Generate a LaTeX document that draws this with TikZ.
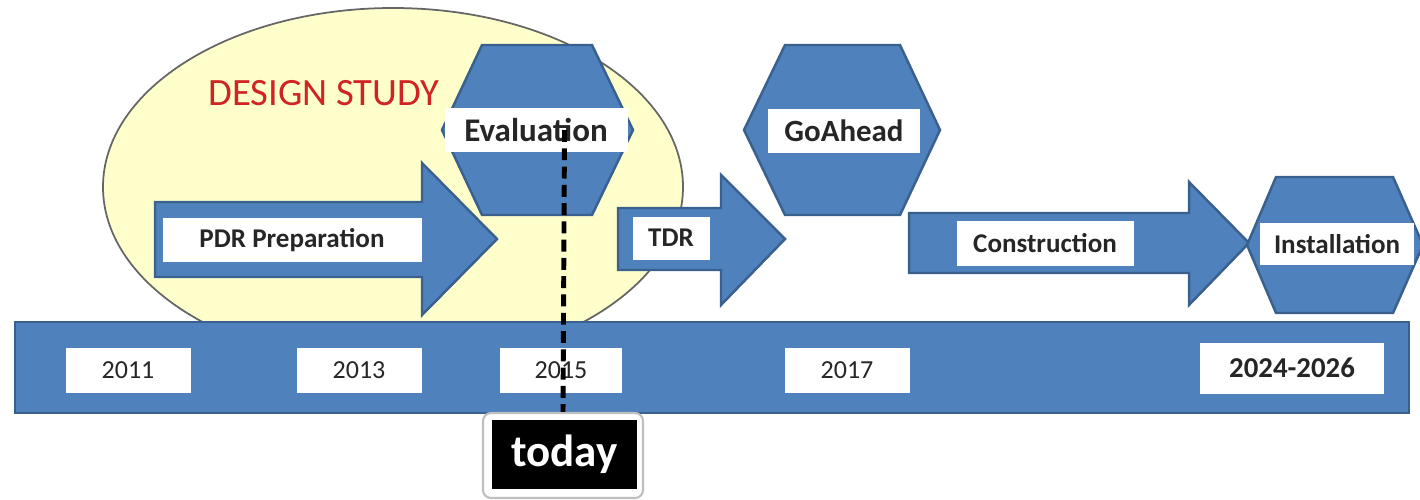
\documentclass[tikz,border=0pt]{standalone}
\usepackage{fontspec}
\setmainfont{Carlito}
\usetikzlibrary{positioning}
\definecolor{officeblue}{RGB}{79,129,189}
\definecolor{blueedge}{RGB}{58,96,142}
\definecolor{paleyellow}{RGB}{255,255,204}
\definecolor{studyred}{RGB}{208,36,36}

\begin{document}
\begin{tikzpicture}[x=0.1mm,y=-0.1mm,
    blueshape/.style={fill=officeblue,draw=blueedge,line width=0.7pt,line join=miter},
    tag/.style={fill=white,inner sep=0pt,text=black!85,font=\fontsize{7.7}{9}\selectfont\bfseries},
    yeartag/.style={fill=white,inner sep=0pt,minimum height=4.5mm,text=black!85,font=\fontsize{7.4}{9}\selectfont},
    nowline/.style={line width=1.4pt,dash pattern=on 3.4pt off 1.8pt}]
\useasboundingbox (0,0) rectangle (1420,499);
% design study bubble
\draw[fill=paleyellow,draw=black!60,line width=0.5pt] (393,187) ellipse [x radius=29mm, y radius=17.9mm];
\node[text=studyred,font=\fontsize{11}{13}\selectfont] (study) at (324,93) {DESIGN STUDY};
% time bar
\draw[blueshape] (15,322) rectangle (1409,413);
\node[yeartag,minimum width=12.5mm] (y2011) at (128,370) {2011};
\node[yeartag,minimum width=12.5mm] (y2013) at (359,370) {2013};
\node[yeartag,minimum width=12.2mm] (y2015) at (561,370) {2015};
\node[yeartag,minimum width=12.5mm] (y2017) at (847,370) {2017};
\node[yeartag,minimum width=18.4mm,minimum height=5.1mm,font=\fontsize{8.2}{10}\selectfont\bfseries] (y2024) at (1292,368) {2024-2026};
% phases
\draw[blueshape] (155,202) -- (422,202) -- (422,163) -- (497,239) -- (422,315) -- (422,277) -- (155,277) -- cycle;
\draw[blueshape] (618,208) -- (721,208) -- (721,175) -- (785,239) -- (721,305) -- (721,270) -- (618,270) -- cycle;
\draw[blueshape] (909,213) -- (1189,213) -- (1189,182) -- (1249,243) -- (1189,305) -- (1189,273) -- (909,273) -- cycle;
% milestones
\draw[blueshape] (482,45) -- (592,45) -- (633,130) -- (592,215) -- (482,215) -- (442,130) -- cycle;
\draw[blueshape] (785,45) -- (900,45) -- (940,130) -- (900,215) -- (785,215) -- (744,130) -- cycle;
\draw[blueshape] (1276,177) -- (1393,177) -- (1423,245) -- (1393,313) -- (1276,313) -- (1247,245) -- cycle;
\node[tag,minimum width=25.9mm,minimum height=4.4mm] (pdr) at (292,240) {PDR Preparation};
\node[tag,minimum width=7.7mm,minimum height=4.3mm] (tdr) at (671,238) {TDR};
\node[tag,minimum width=17.7mm,minimum height=4.5mm] (constr) at (1045,243) {Construction};
\node[tag,minimum width=18.3mm,minimum height=4.4mm,font=\fontsize{9.4}{11}\selectfont\bfseries] (eval) at (536,130) {Evaluation};
\node[tag,minimum width=15.2mm,minimum height=4.4mm,font=\fontsize{8.8}{10}\selectfont\bfseries] (goahead) at (844,131) {GoAhead};
\node[tag,minimum width=15.4mm,minimum height=4.2mm] (install) at (1337,244) {Installation};
% today marker
\node[fill=white,draw=black!25,line width=0.6pt,rounded corners=0.8mm,minimum width=16mm,minimum height=8.5mm] (todayframe) at (563,455.5) {};
\node[fill=black,text=white,inner sep=0pt,minimum width=14.5mm,minimum height=6.9mm,font=\fontsize{12.8}{15}\selectfont\bfseries] (today) at (564.5,454.5) {today};
\draw[nowline] (eval.center -| today.north) -- (todayframe.north);
\end{tikzpicture}
\end{document}
